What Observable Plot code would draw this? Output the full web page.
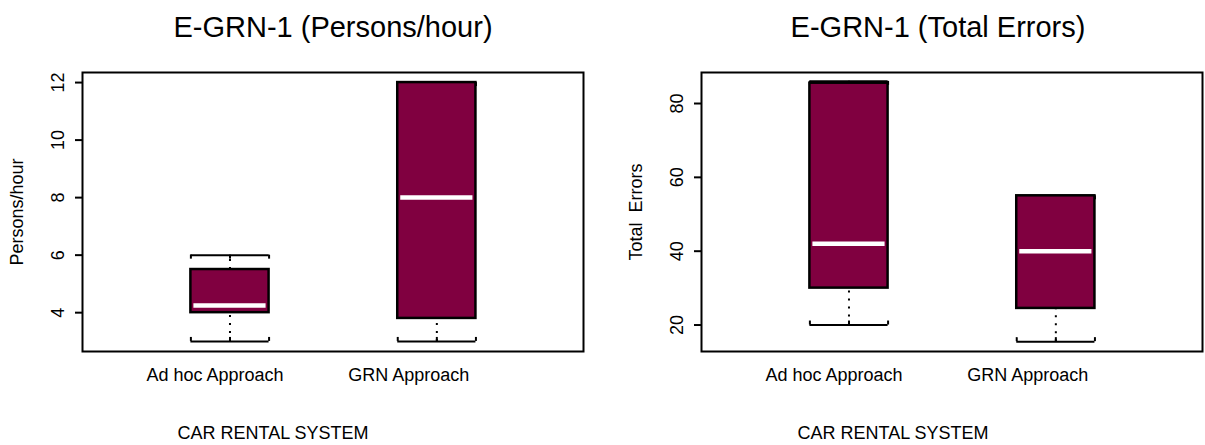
<!DOCTYPE html>
<html><head><meta charset="utf-8">
<script src="https://cdn.jsdelivr.net/npm/d3@7"></script>
<script src="https://cdn.jsdelivr.net/npm/@observablehq/plot@0.6"></script>
<style>
body{margin:0;background:#fff}
#row{display:flex;width:1205px;height:445px}
#row svg{display:block}
</style>
</head><body><div id="row"></div>
<script>
const groups = ["Ad hoc Approach", "GRN Approach"];
const positions = [1, 2];

const personsLow = [3, 3];
const personsQ1 = [4, 3.8];
const personsMedian = [4.25, 8];
const personsQ3 = [5.5, 12];
const personsHigh = [6, 12];
const personsTicks = [4, 6, 8, 10, 12];

const errorsLow = [20, 15.5];
const errorsQ1 = [30, 24.5];
const errorsMedian = [42, 40];
const errorsQ3 = [85.5, 55];
const errorsHigh = [86, 55];
const errorsTicks = [20, 40, 60, 80];

const titles = ["E-GRN-1 (Persons/hour)", "E-GRN-1 (Total Errors)"];
const yLabels = ["Persons/hour", "Total \u00a0Errors"];
const caption = "CAR RENTAL SYSTEM";

const FONT = "'Liberation Sans', Arial, Helvetica, sans-serif";
const FILL = "#800040";
const LABEL_SHIFT = [-15, -28];

function rowsOf(low, q1, med, q3, high) {
  return groups.map((g, i) => ({group: g, x: positions[i], low: low[i], q1: q1[i], med: med[i], q3: q3[i], high: high[i]}));
}

function boxChart({rows, yDomain, ticks, title, ylabel, width, marginLeft, marginRight, titleDx, captionDx}) {
  const hw = 0.189;
  const capTicks = rows.flatMap(d => [-hw, 0, hw].map(o => ({x: d.x + o, low: d.low, high: d.high})));
  return Plot.plot({
    width, height: 445,
    marginLeft, marginRight, marginTop: 72, marginBottom: 94,
    style: {fontFamily: FONT, fontSize: "18px", color: "black", background: "white"},
    x: {type: "linear", domain: [0.287, 2.709]},
    y: {domain: yDomain},
    marks: [
      Plot.ruleX(rows, {x: "x", y1: "q3", y2: "high", stroke: "black", strokeWidth: 2, strokeDasharray: "2,6"}),
      Plot.ruleX(rows, {x: "x", y1: "low", y2: "q1", stroke: "black", strokeWidth: 2, strokeDasharray: "2,6"}),
      Plot.ruleY(rows, {y: "high", x1: d => d.x - hw, x2: d => d.x + hw, stroke: "black", strokeWidth: 2}),
      Plot.ruleY(rows, {y: "low", x1: d => d.x - hw, x2: d => d.x + hw, stroke: "black", strokeWidth: 2}),
      Plot.ruleX(capTicks, {x: "x", y1: "high", y2: "high", insetTop: 4, stroke: "black", strokeWidth: 2}),
      Plot.ruleX(capTicks, {x: "x", y1: "low", y2: "low", insetBottom: 4, stroke: "black", strokeWidth: 2}),
      Plot.rect(rows, {x1: d => d.x - hw, x2: d => d.x + hw, y1: "q1", y2: "q3", fill: FILL, stroke: "black", strokeWidth: 2.5}),
      Plot.ruleY(rows, {y: "med", x1: d => d.x - hw, x2: d => d.x + hw, stroke: "white", strokeWidth: 4.5, insetLeft: 3, insetRight: 3}),
      Plot.frame({stroke: "black", strokeWidth: 2}),
      Plot.axisY({ticks, tickSize: 7, tickRotate: -90, tickPadding: 12, strokeWidth: 2, label: null}),
      ...positions.map((p, i) => Plot.axisX({ticks: [p], tickFormat: () => groups[i], tickSize: 0, tickPadding: 17, dx: LABEL_SHIFT[i], label: null})),
      Plot.text([ylabel], {frameAnchor: "left", rotate: -90, textAnchor: "middle", lineAnchor: "top", dx: -72, fontSize: 18}),
      Plot.text([title], {frameAnchor: "top", lineAnchor: "bottom", dy: -36, dx: titleDx, fontSize: 29}),
      Plot.text([caption], {frameAnchor: "bottom", lineAnchor: "bottom", dy: 87, dx: captionDx, fontSize: 18})
    ]
  });
}

const row = document.getElementById("row");
row.append(boxChart({
  rows: rowsOf(personsLow, personsQ1, personsMedian, personsQ3, personsHigh),
  yDomain: [2.65, 12.35], ticks: personsTicks, title: titles[0], ylabel: yLabels[0],
  width: 600, marginLeft: 82, marginRight: 17, titleDx: 0, captionDx: -60
}));
row.append(boxChart({
  rows: rowsOf(errorsLow, errorsQ1, errorsMedian, errorsQ3, errorsHigh),
  yDomain: [12.83, 88.4], ticks: errorsTicks, title: titles[1], ylabel: yLabels[1],
  width: 605, marginLeft: 101, marginRight: 3, titleDx: -14, captionDx: -59
}));
</script>
</body></html>
